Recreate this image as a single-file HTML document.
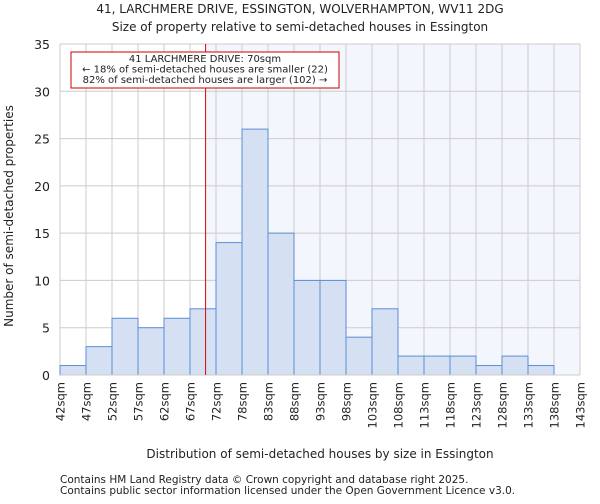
<!DOCTYPE html>
<html><head><meta charset="utf-8"><style>
body{margin:0;background:#fff;font-family:"DejaVu Sans","Liberation Sans",sans-serif;}
svg text{font-family:"DejaVu Sans","Liberation Sans",sans-serif;fill:#222;}
</style></head><body>
<svg id="chart" width="600" height="500" xmlns="http://www.w3.org/2000/svg">
<text x="300" y="13" font-size="12" text-anchor="middle">41, LARCHMERE DRIVE, ESSINGTON, WOLVERHAMPTON, WV11 2DG</text>
<text x="300" y="31" font-size="12" text-anchor="middle">Size of property relative to semi-detached houses in Essington</text>
<g id="plot"></g>
<text x="320" y="458" font-size="12" text-anchor="middle">Distribution of semi-detached houses by size in Essington</text>
<text transform="translate(13,216) rotate(-90)" font-size="12" text-anchor="middle">Number of semi-detached properties</text>
<text x="60" y="483" font-size="10.5" fill="#444">Contains HM Land Registry data © Crown copyright and database right 2025.</text>
<text x="60" y="494" font-size="10.5" fill="#444">Contains public sector information licensed under the Open Government Licence v3.0.</text>
</svg>
<script>
const binLabels=["42sqm","47sqm","52sqm","57sqm","62sqm","67sqm","72sqm","78sqm","83sqm","88sqm","93sqm","98sqm","103sqm","108sqm","113sqm","118sqm","123sqm","128sqm","133sqm","138sqm","143sqm"];
const counts=[1,3,6,5,6,7,14,26,15,10,10,4,7,2,2,2,1,2,1,0];
const yTicks=[0,5,10,15,20,25,30,35];
const propertyBinPos=[5.6];
const NS="http://www.w3.org/2000/svg";
const L=60,R=580,T=44,B=375,yMax=35;
const nb=counts.length;
const xs=i=>L+(R-L)*i/nb;
const ys=v=>B-(B-T)*v/yMax;
const g=document.getElementById('plot');
function mk(t,a,p){const e=document.createElementNS(NS,t);for(const k in a)e.setAttribute(k,a[k]);(p||g).appendChild(e);return e;}
const px=xs(propertyBinPos[0]);
let e=mk('rect',{x:px,y:T,width:R-px,height:B-T,fill:'#f3f6fd'});


for(let i=0;i<=nb;i++){e=mk('line',{x1:xs(i),x2:xs(i),y1:T,y2:B,stroke:'#ccc','stroke-width':1});

}
yTicks.forEach(v=>{e=mk('line',{x1:L,x2:R,y1:ys(v),y2:ys(v),stroke:'#ccc','stroke-width':1});


const t=mk('text',{x:L-10,y:ys(v)+5,'font-size':12.5,'text-anchor':'end'});t.textContent=v;

});
counts.forEach((c,i)=>{if(c<=0)return;e=mk('rect',{x:xs(i),y:ys(c),width:xs(i+1)-xs(i),height:ys(0)-ys(c),fill:'#d6e0f3',stroke:'#5b8ed6','stroke-width':1});

});
binLabels.forEach((l,i)=>{const t=mk('text',{transform:`translate(${xs(i)+4.5},382) rotate(-90)`,'font-size':11.5,'text-anchor':'end'});t.textContent=l;

});
e=mk('line',{x1:L,x2:R,y1:B,y2:B,stroke:'#ccc','stroke-width':1});


e=mk('line',{x1:px,x2:px,y1:T,y2:B,stroke:'#e00000','stroke-width':1});


const ag=mk('g',{});


mk('rect',{x:71,y:52,width:268,height:36,fill:'#fff',stroke:'#c00','stroke-width':1},ag);
const lines=["41 LARCHMERE DRIVE: 70sqm","← 18% of semi-detached houses are smaller (22)","82% of semi-detached houses are larger (102) →"];
lines.forEach((s,i)=>{const t=mk('text',{x:205,y:62+i*10.5,'font-size':10,'text-anchor':'middle'},ag);t.textContent=s;

});
</script>
</body></html>
